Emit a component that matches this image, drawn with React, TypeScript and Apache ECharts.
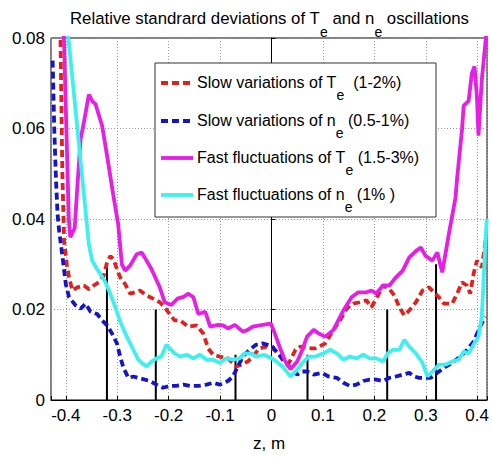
import React, { useEffect, useRef } from 'react';
import * as echarts from 'echarts';

const FONT = '"Liberation Sans", Arial, sans-serif';

const titleParts = ['Relative standrard deviations of T', 'e', ' and n', 'e', ' oscillations'];
const yTicks = [0, 0.02, 0.04, 0.06, 0.08];
const xTickStep = 0.1;
const xName = 'z, m';

const seriesNames = [
  ['Slow variations of T', 'e', '  (1-2%)'],
  ['Slow variations of n', 'e', ' (0.5-1%)'],
  ['Fast fluctuations of T', 'e', ' (1.5-3%)'],
  ['Fast fluctuations of n', 'e', ' (1% )'],
];
const seriesColors = ['#e2201c', '#1414c8', '#e61ee6', '#3ef0f0'];
const seriesDashed = [true, true, false, false];

// vertical black markers
const markerZ = [-0.32, -0.225, -0.07, 0.07, 0.225, 0.32];
const markerH = [0.03, 0.02, 0.01, 0.01, 0.02, 0.03];

const slowTe: [number, number][] = [
  [-0.4106, 0.082], [-0.4067, 0.05], [-0.4033, 0.035], [-0.3981, 0.030], [-0.3937, 0.0271],
  [-0.3871, 0.0242], [-0.3775, 0.0249], [-0.3648, 0.0253], [-0.3552, 0.0245], [-0.3456, 0.0253],
  [-0.336, 0.026], [-0.3263, 0.0275], [-0.3198, 0.0304], [-0.3135, 0.0318], [-0.3071, 0.0311],
  [-0.3006, 0.0289], [-0.2942, 0.0271], [-0.2846, 0.0256], [-0.275, 0.0235], [-0.2654, 0.0238],
  [-0.2558, 0.0242], [-0.2429, 0.0231], [-0.2302, 0.0224], [-0.2173, 0.0216], [-0.2077, 0.0205],
  [-0.1981, 0.019], [-0.1885, 0.0176], [-0.1775, 0.0176], [-0.1615, 0.0162], [-0.1456, 0.0165],
  [-0.1327, 0.0147], [-0.1231, 0.0114], [-0.1135, 0.01], [-0.1006, 0.0096], [-0.0846, 0.0092],
  [-0.0687, 0.0074], [-0.059, 0.0078], [-0.0462, 0.0085], [-0.0365, 0.0096], [-0.0237, 0.0114],
  [-0.011, 0.0118], [0.0019, 0.0114], [0.0148, 0.0103], [0.0244, 0.0082], [0.034, 0.0082],
  [0.0467, 0.0111], [0.0563, 0.0118], [0.0692, 0.0114], [0.0852, 0.0114], [0.1044, 0.0125],
  [0.1206, 0.0155], [0.1333, 0.0176], [0.1462, 0.0202], [0.159, 0.0213], [0.1717, 0.0216],
  [0.1846, 0.022], [0.1942, 0.0205], [0.2038, 0.0224], [0.2167, 0.0253], [0.2294, 0.0245],
  [0.239, 0.0231], [0.2487, 0.0205], [0.2583, 0.0187], [0.2679, 0.0198], [0.2808, 0.0216],
  [0.2937, 0.0242], [0.3063, 0.0249], [0.316, 0.0238], [0.3256, 0.0227], [0.3352, 0.0213],
  [0.3513, 0.0213], [0.361, 0.0235], [0.3706, 0.026], [0.3802, 0.0253], [0.3865, 0.0235],
  [0.3929, 0.0278], [0.3994, 0.0308], [0.409, 0.0293], [0.4173, 0.036],
];

const slowNe: [number, number][] = [
  [-0.4256, 0.075], [-0.4225, 0.06], [-0.4192, 0.049], [-0.416, 0.041], [-0.4129, 0.0373],
  [-0.4063, 0.0315], [-0.4, 0.0256], [-0.3937, 0.0227], [-0.3808, 0.0209], [-0.3712, 0.0202],
  [-0.3615, 0.0213], [-0.3519, 0.0195], [-0.339, 0.019], [-0.3294, 0.0176], [-0.3198, 0.0165],
  [-0.3102, 0.0147], [-0.3006, 0.0125], [-0.2942, 0.0096], [-0.2879, 0.0071], [-0.2783, 0.0049],
  [-0.2687, 0.0052], [-0.259, 0.0049], [-0.2462, 0.0045], [-0.2365, 0.0042], [-0.2237, 0.0034],
  [-0.211, 0.0027], [-0.1981, 0.0031], [-0.1852, 0.0031], [-0.1712, 0.0034], [-0.1583, 0.0031],
  [-0.1423, 0.0031], [-0.1263, 0.0034], [-0.1135, 0.0038], [-0.1006, 0.0034], [-0.0846, 0.0042],
  [-0.075, 0.0052], [-0.0654, 0.0074], [-0.0558, 0.0096], [-0.0429, 0.0111], [-0.0302, 0.0122],
  [-0.0173, 0.0125], [-0.0077, 0.0122], [0.0019, 0.0118], [0.0115, 0.0103], [0.0212, 0.0092],
  [0.0308, 0.0078], [0.0404, 0.0067], [0.05, 0.0056], [0.0596, 0.0063], [0.0692, 0.0063],
  [0.0821, 0.0056], [0.0981, 0.006], [0.111, 0.0052], [0.1269, 0.0049], [0.1398, 0.0038],
  [0.1525, 0.0031], [0.1654, 0.0034], [0.1783, 0.0042], [0.191, 0.0045], [0.2038, 0.0045],
  [0.2167, 0.0042], [0.2294, 0.0049], [0.2423, 0.0052], [0.2552, 0.0056], [0.2679, 0.006],
  [0.2775, 0.0052], [0.2871, 0.0049], [0.2967, 0.0049], [0.3096, 0.0049], [0.3225, 0.006],
  [0.3352, 0.0071], [0.3513, 0.0082], [0.3673, 0.0096], [0.3802, 0.0111], [0.3929, 0.0129],
  [0.4058, 0.0162], [0.4154, 0.0184],
];

const fastTe: [number, number][] = [
  [-0.4048, 0.085], [-0.3942, 0.04], [-0.3913, 0.036], [-0.3827, 0.038], [-0.3788, 0.045],
  [-0.3712, 0.0577], [-0.3654, 0.061], [-0.3552, 0.0675], [-0.3481, 0.066], [-0.3423, 0.0654],
  [-0.3294, 0.0606], [-0.3198, 0.054], [-0.3077, 0.0453], [-0.2981, 0.0388], [-0.291, 0.03],
  [-0.2846, 0.0286], [-0.275, 0.0297], [-0.2621, 0.0322], [-0.2525, 0.0326], [-0.2429, 0.0308],
  [-0.2333, 0.0289], [-0.2173, 0.0249], [-0.2077, 0.0216], [-0.1948, 0.021], [-0.1827, 0.0224],
  [-0.1712, 0.0228], [-0.1615, 0.0235], [-0.1519, 0.0227], [-0.1423, 0.019], [-0.1288, 0.0195],
  [-0.1192, 0.0162], [-0.1038, 0.0166], [-0.0942, 0.0165], [-0.0846, 0.0158], [-0.0712, 0.0166],
  [-0.0558, 0.0151], [-0.0462, 0.0155], [-0.0365, 0.0162], [-0.0173, 0.0166], [-0.0013, 0.0169],
  [0.0052, 0.0151], [0.0179, 0.0111], [0.0269, 0.0085], [0.0371, 0.0068], [0.05, 0.0085],
  [0.0596, 0.011], [0.0692, 0.014], [0.0821, 0.0155], [0.0917, 0.0147], [0.1044, 0.014],
  [0.1206, 0.0155], [0.1398, 0.0198], [0.1558, 0.0227], [0.1687, 0.0238], [0.1846, 0.0238],
  [0.1942, 0.0242], [0.2038, 0.0235], [0.2167, 0.0253], [0.2294, 0.0253], [0.239, 0.0267],
  [0.2552, 0.0286], [0.2679, 0.0315], [0.2808, 0.0329], [0.2904, 0.0337], [0.3, 0.0318],
  [0.3129, 0.0308], [0.3225, 0.0326], [0.3321, 0.0282], [0.3448, 0.0366], [0.3577, 0.0446],
  [0.361, 0.049], [0.3706, 0.0599], [0.3737, 0.065], [0.3833, 0.0661], [0.3898, 0.0723],
  [0.3948, 0.0737], [0.3994, 0.0672], [0.4025, 0.0584], [0.409, 0.0708], [0.4187, 0.082],
];

const fastNe: [number, number][] = [
  [-0.3967, 0.082], [-0.3583, 0.038], [-0.3552, 0.0344], [-0.3487, 0.0308], [-0.339, 0.0289],
  [-0.3327, 0.0278], [-0.3231, 0.026], [-0.3135, 0.0235], [-0.3038, 0.0205], [-0.2942, 0.0173],
  [-0.2813, 0.014], [-0.2687, 0.0111], [-0.259, 0.0089], [-0.2525, 0.0082], [-0.2429, 0.0074],
  [-0.2333, 0.0085], [-0.2237, 0.0092], [-0.214, 0.0096], [-0.2044, 0.0122], [-0.1981, 0.0114],
  [-0.1885, 0.0103], [-0.1775, 0.0096], [-0.1648, 0.01], [-0.1519, 0.0092], [-0.139, 0.01],
  [-0.1263, 0.0089], [-0.1135, 0.0089], [-0.1006, 0.0082], [-0.0879, 0.0092], [-0.075, 0.0089],
  [-0.0621, 0.0092], [-0.0525, 0.0103], [-0.0398, 0.0103], [-0.0302, 0.0096], [-0.014, 0.01],
  [0.0052, 0.0089], [0.0212, 0.0074], [0.0371, 0.0052], [0.05, 0.0067], [0.0629, 0.0085],
  [0.0725, 0.0096], [0.0852, 0.0096], [0.1013, 0.0103], [0.114, 0.0111], [0.1269, 0.0103],
  [0.1398, 0.0089], [0.1525, 0.0096], [0.1654, 0.0092], [0.1783, 0.01], [0.191, 0.0092],
  [0.2038, 0.0092], [0.2167, 0.0085], [0.2263, 0.0103], [0.236, 0.0111], [0.2487, 0.0111],
  [0.2583, 0.0133], [0.2679, 0.0118], [0.2808, 0.0103], [0.2937, 0.0082], [0.3033, 0.0052],
  [0.3129, 0.0063], [0.3256, 0.0078], [0.3385, 0.0078], [0.3513, 0.0085], [0.364, 0.0089],
  [0.3737, 0.0107], [0.3833, 0.0103], [0.3929, 0.0122], [0.4025, 0.014], [0.409, 0.0184],
  [0.4121, 0.0256], [0.4154, 0.0337], [0.4187, 0.04],
];

const seriesData = [slowTe, slowNe, fastTe, fastNe];

export default function App() {
  const ref = useRef<HTMLDivElement>(null);

  useEffect(() => {
    if (!ref.current) return;
    const chart = echarts.init(ref.current, null, { renderer: 'svg' });

    const titleMain = { fontSize: 16.8, fontFamily: FONT, fontWeight: 'normal', color: '#000' };
    const titleSub = { fontSize: 14, fontFamily: FONT, fontWeight: 'normal', color: '#000', padding: [28, 0, 0, 0] };
    const legMain = { fontSize: 16, fontFamily: FONT, color: '#000' };
    const legSub = { fontSize: 14, fontFamily: FONT, color: '#000', padding: [26, 0, 0, 0] };

    const markerSeries = markerZ.map((z, i) => ({
      type: 'line',
      name: 'marker' + i,
      data: [[z, 0], [z, markerH[i]]],
      symbol: 'none',
      silent: true,
      z: 1,
      lineStyle: { color: '#000', width: 2 },
    }));

    const dataSeries = seriesData.map((d, i) => ({
      type: 'line',
      name: seriesNames[i].join(''),
      data: d,
      symbol: 'none',
      z: 3 + i,
      lineStyle: {
        color: seriesColors[i],
        width: 3.8,
        type: seriesDashed[i] ? [7, 4] : 'solid',
      },
    }));

    const legendTop = 63;
    const rowY = [82, 120, 157, 194];
    const legendGraphics: any[] = [
      {
        type: 'rect',
        z: 100,
        shape: { x: 155, y: legendTop, width: 281, height: 154 },
        style: { fill: '#fff', stroke: '#333', lineWidth: 1 },
      },
    ];
    seriesNames.forEach((parts, i) => {
      legendGraphics.push({
        type: 'line',
        z: 101,
        shape: { x1: 161, y1: rowY[i] + 1, x2: 193, y2: rowY[i] + 1 },
        style: {
          stroke: seriesColors[i],
          lineWidth: 3.8,
          lineDash: seriesDashed[i] ? [7, 4] : null,
        },
      });
      legendGraphics.push({
        type: 'text',
        z: 101,
        x: 197,
        y: rowY[i],
        style: {
          text: `{a|${parts[0]}}{s|${parts[1]}}{a|${parts[2]}}`,
          rich: { a: legMain, s: legSub },
          verticalAlign: 'middle',
          align: 'left',
        },
      });
    });

    chart.setOption({
      animation: false,
      title: {
        text: `{a|${titleParts[0]}}{s|${titleParts[1]}}{a|${titleParts[2]}}{s|${titleParts[3]}}{a|${titleParts[4]}}`,
        left: 70,
        top: -3,
        padding: 0,
        textStyle: { fontWeight: 'normal', rich: { a: titleMain, s: titleSub } },
      },
      grid: {
        left: 51,
        top: 38,
        right: 0,
        bottom: 53,
        show: true,
        borderColor: '#000',
        borderWidth: 1,
        backgroundColor: '#fff',
      },
      xAxis: {
        type: 'value',
        min: -0.4288,
        max: 0.4192,
        splitNumber: 8,
        name: xName,
        nameLocation: 'middle',
        nameGap: 35,
        nameTextStyle: { fontSize: 17, fontFamily: FONT, color: '#000' },
        axisLine: { show: true, lineStyle: { color: '#000', width: 1 } },
        axisTick: { show: true, inside: true, length: 4, lineStyle: { color: '#000' } },
        axisLabel: {
          fontSize: 17,
          fontFamily: FONT,
          color: '#000',
          margin: 7,
          formatter: (v: number) => {
            const k = v / xTickStep;
            if (Math.abs(k - Math.round(k)) > 1e-6) return '';
            const r = Math.round(k) / 10;
            return r === 0 ? '0' : String(r);
          },
        },
        splitLine: { show: true, lineStyle: { color: '#999', type: [1, 2], width: 1 } },
      },
      yAxis: {
        type: 'value',
        min: yTicks[0],
        max: yTicks[yTicks.length - 1],
        interval: yTicks[1] - yTicks[0],
        axisLine: { show: true, lineStyle: { color: '#000', width: 1 } },
        axisTick: { show: true, inside: true, length: 4, lineStyle: { color: '#000' } },
        axisLabel: {
          fontSize: 17,
          fontFamily: FONT,
          color: '#000',
          margin: 6,
          formatter: (v: number) => (Math.abs(v) < 1e-9 ? '0' : v.toFixed(2)),
        },
        splitLine: { show: true, lineStyle: { color: '#999', type: [1, 2], width: 1 } },
      },
      graphic: legendGraphics,
      series: [...markerSeries, ...dataSeries],
    });

    return () => chart.dispose();
  }, []);

  return (
    <div
      ref={ref}
      style={{ position: 'absolute', left: 0, top: 0, width: 492, height: 457, background: '#fff' }}
    />
  );
}
